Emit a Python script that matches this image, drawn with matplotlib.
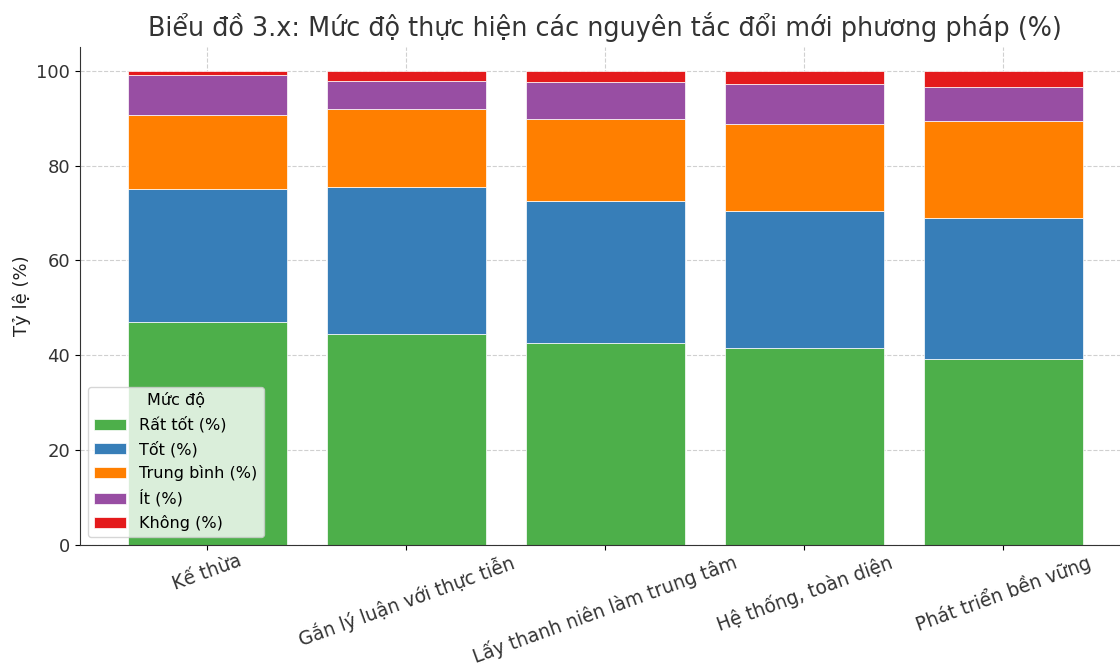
import matplotlib
matplotlib.use('Agg')
import matplotlib.pyplot as plt
import numpy as np

# data (% per level)
nguyen_tac = ['Kế thừa', 'Gắn lý luận với thực tiễn', 'Lấy thanh niên làm trung tâm',
              'Hệ thống, toàn diện', 'Phát triển bền vững']
rat_tot = [47.0, 44.5, 42.6, 41.5, 39.2]
tot = [28.0, 31.0, 29.9, 29.0, 29.7]
trung_binh = [15.7, 16.4, 17.4, 18.2, 20.5]
it = [8.3, 6.0, 7.7, 8.5, 7.1]
khong = [1.0, 2.1, 2.4, 2.8, 3.5]

series = [rat_tot, tot, trung_binh, it, khong]
names = ['Rất tốt (%)', 'Tốt (%)', 'Trung bình (%)', 'Ít (%)', 'Không (%)']
colors = ['#4daf4a', '#377eb8', '#ff7f00', '#984ea3', '#e41a1c']

plt.rc('font', family='DejaVu Sans')

fig = plt.figure(figsize=(11.2, 6.68), dpi=100)
ax = fig.add_axes([0.0714, 0.184, 0.938, 0.7456])

x = np.arange(len(nguyen_tac))
bottom = np.zeros(len(nguyen_tac))
for vals, name, c in zip(series, names, colors):
    ax.bar(x, vals, 0.8, bottom=bottom, color=c, label=name,
           edgecolor='white', linewidth=0.5, zorder=2)
    bottom += np.array(vals)

ax.set_xlim(-0.64, 4.64)
ax.set_ylim(0, 105)
ax.set_xticks(x)
ax.set_xticklabels(nguyen_tac, rotation=20, ha='center', fontsize=13.4, color='#333333')
ax.tick_params(axis='x', pad=1)
ax.tick_params(axis='y', labelsize=13, labelcolor='#333333')
ax.set_ylabel('Tỷ lệ (%)', fontsize=13, color='#222222')
ax.set_title('Biểu đồ 3.x: Mức độ thực hiện các nguyên tắc đổi mới phương pháp (%)',
             fontsize=18.4, color='#333333', pad=8)

ax.grid(True, linestyle='--', color='#d0d0d0', linewidth=0.8, zorder=0)
ax.set_axisbelow(True)
for s in ['top', 'right']:
    ax.spines[s].set_visible(False)
ax.spines['left'].set_color('#333333')
ax.spines['bottom'].set_color('#333333')

leg = ax.legend(title='Mức độ', loc='lower left', fontsize=11.5, title_fontsize=11.5,
                framealpha=0.8)

fig.savefig('out.png', dpi=100)
